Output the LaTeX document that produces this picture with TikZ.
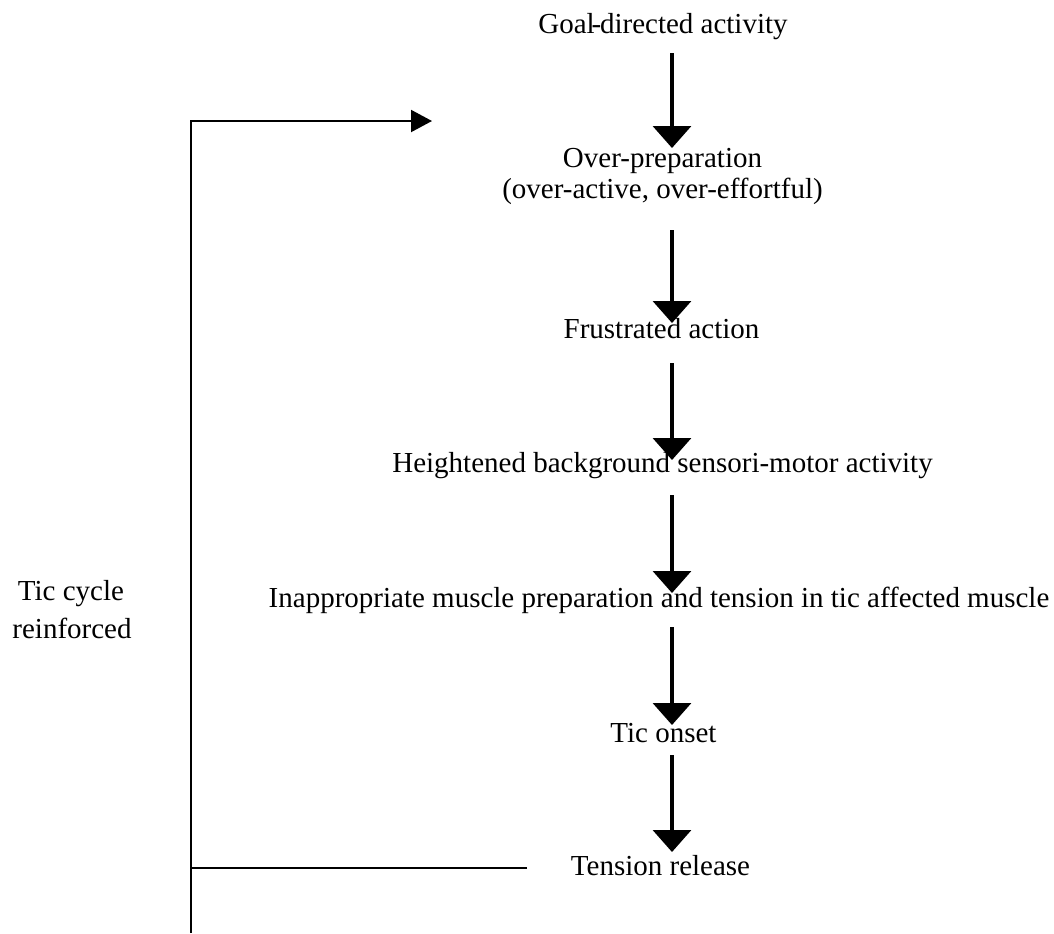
\documentclass[tikz,border=0pt]{standalone}
\usepackage{fontspec}
\setmainfont{Liberation Serif}
\usetikzlibrary{arrows.meta}
\tikzset{
  lbl/.style={inner sep=0pt, anchor=base, align=center, font=\fontsize{14.5}{15.5}\selectfont},
  flow/.style={line width=1.75pt, -{Triangle[length=11pt,width=19pt]}},
  loop/.style={line width=1pt},
  looparrow/.style={line width=1pt, -{Triangle[length=10.5pt,width=11pt]}}
}
\begin{document}
\begin{tikzpicture}[x=0.5pt,y=-0.5pt]
\useasboundingbox (0,0) rectangle (1054,933);
% text nodes (positions are baselines; multi-line nodes use the last line)
\node[lbl] (goal) at (663,33) {Goal\kern-1.6pt-\kern-0.6pt directed activity};
\node[lbl] (prep) at (662.5,198) {Over-preparation\\(over-active, over-effortful)};
\node[lbl] (frus) at (661.5,338) {Frustrated action};
\node[lbl] (heig) at (662.5,472) {Heightened background sensori-motor activity};
\node[lbl] (inap) at (659,607) {Inappropriate muscle preparation and tension in tic affected muscle};
\node[lbl] (onset) at (663.5,742) {Tic onset};
\node[lbl] (rel) at (660.5,875) {Tension release};
\node[lbl] (cyc) at (71,600) {Tic cycle};
\node[lbl] (reinf) at (72,638) {reinforced};
% arrow end points
\coordinate (a1s) at (672,53);  \coordinate (a1e) at (672,148);
\coordinate (a2s) at (672,230); \coordinate (a2e) at (672,323);
\coordinate (a3s) at (672,363); \coordinate (a3e) at (672,460);
\coordinate (a4s) at (672,495); \coordinate (a4e) at (672,593);
\coordinate (a5s) at (672,627); \coordinate (a5e) at (672,725);
\coordinate (a6s) at (672,755); \coordinate (a6e) at (672,852);
\draw[flow] (a1s) -- (a1e);
\draw[flow] (a2s) -- (a2e);
\draw[flow] (a3s) -- (a3e);
\draw[flow] (a4s) -- (a4e);
\draw[flow] (a5s) -- (a5e);
\draw[flow] (a6s) -- (a6e);
% feedback loop
\coordinate (relend) at (527,868);
\coordinate (lj) at (191,868);
\coordinate (lbot) at (191,933);
\coordinate (ltop) at (191,121);
\coordinate (ltip) at (432,121);
\draw[loop] (relend) -- (lj);
\draw[looparrow] (lbot) -- (ltop) -- (ltip);
\end{tikzpicture}
\end{document}
